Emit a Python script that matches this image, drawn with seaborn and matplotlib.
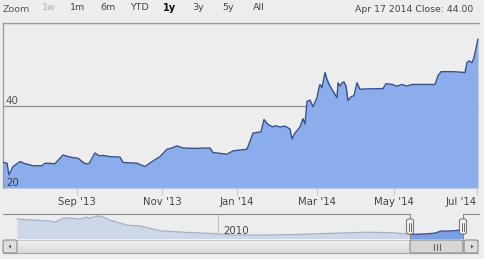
import matplotlib
matplotlib.use('Agg')
import matplotlib.pyplot as plt
import matplotlib.transforms as mtransforms
from matplotlib.patches import FancyBboxPatch, Polygon
import numpy as np
import pandas as pd
import seaborn as sns

# ---------------- data ----------------
session = [0, 4, 6, 10, 17, 22, 30, 39, 42, 52, 60, 67, 75, 82, 86, 92, 96, 100,
           107, 117, 120, 134, 142, 149, 157, 164, 169, 174, 180, 190, 207, 210,
           224, 230, 244, 250, 255, 258, 261, 265, 270, 272, 277, 282, 287, 289,
           292, 297, 300, 302, 304, 307, 310, 314, 316, 317, 319, 322, 324, 327,
           330, 334, 335, 337, 339, 341, 343, 345, 348, 351, 354, 357, 360, 380,
           383, 389, 394, 399, 404, 409, 432, 435, 438, 450, 462, 464, 466, 469,
           471, 475]
close = [26.2, 26.0, 23.2, 25.2, 26.4, 25.9, 25.4, 25.4, 26.0, 25.9, 28.0, 27.5,
         27.2, 25.9, 25.9, 28.5, 27.8, 27.9, 27.6, 27.5, 26.2, 26.0, 25.2, 26.4,
         27.6, 29.4, 29.7, 30.2, 29.7, 29.6, 29.7, 28.6, 28.2, 29.0, 29.4, 33.3,
         33.5, 33.6, 36.6, 35.4, 34.8, 35.1, 34.8, 35.0, 34.3, 31.9, 33.3, 34.8,
         36.8, 35.5, 41.0, 41.3, 39.7, 41.9, 44.3, 45.1, 44.3, 48.0, 46.3, 44.7,
         43.5, 41.9, 45.5, 44.7, 45.5, 45.7, 44.7, 41.2, 42.1, 42.4, 45.5, 43.9,
         44.0, 44.1, 45.3, 45.1, 44.7, 45.1, 44.7, 45.1, 45.1, 47.2, 48.2, 48.2,
         48.0, 50.4, 50.8, 50.4, 51.6, 56.1]
month_ticks = [74, 159, 234, 314, 391, 474]
month_labels = ["Sep '13", "Nov '13", "Jan '14", "Mar '14", "May '14", "Jul '14"]
y_ticks = [20, 40, 60]
y_labels = ["20", "40"]

nav_year = [2006.21, 2006.51, 2006.83, 2006.92, 2007.08, 2007.15, 2007.40, 2007.53,
            2007.58, 2007.72, 2007.83, 2007.96, 2008.28, 2008.53, 2008.77, 2008.91,
            2009.34, 2009.79, 2010.04, 2010.28, 2010.92, 2011.55, 2012.17, 2012.81,
            2013.30, 2013.62, 2013.75, 2013.95, 2014.10, 2014.20, 2014.40, 2014.50,
            2014.62]
nav_close = [112, 106, 101, 94, 116, 118, 112, 123, 116, 129, 123, 106, 78, 73, 56,
             46, 38, 32, 28, 22, 22, 26, 32, 38, 35, 26, 26, 29, 33, 44, 45, 48, 52]
nav_tick_years = [2010]
selection = [2013.62, 2014.62]

range_buttons = ['1w', '1m', '6m', 'YTD', '1y', '3y', '5y', 'All']
header_text = 'Apr 17 2014 Close: 44.00'

# ---------------- style ----------------
sns.set_theme(style='white')
plt.rcParams['font.family'] = ['DejaVu Sans']

W, H = 484, 259
BG = '#ededed'
fig = plt.figure(figsize=(W / 100, H / 100), dpi=100, facecolor=BG)


def frac(x0, y0, x1, y1):
    return [x0 / W, 1 - y1 / H, (x1 - x0) / W, (y1 - y0) / H]


# ---------------- main chart ----------------
ax = fig.add_axes(frac(3, 23, 479, 188))
ax.set_facecolor(BG)
df = pd.DataFrame({'session': session, 'close': close})
ax.fill_between(df['session'], df['close'], 20, color='#8cadeb', lw=0, zorder=2)
sns.lineplot(data=df, x='session', y='close', ax=ax, color='#34508c', lw=1.0,
             zorder=3)
ax.set_xlim(0, 476)
ax.set_ylim(y_ticks[0], y_ticks[-1])
ax.set_xlabel('')
ax.set_ylabel('')
ax.set_yticks(y_ticks)
ax.set_yticklabels([])
ax.tick_params(axis='y', length=0)
ax.set_axisbelow(True)
ax.grid(axis='y', color='#8c8c8c', lw=0.9)
ax.grid(axis='x', visible=False)
ax.set_xticks(month_ticks)
ax.set_xticklabels(month_labels)
ax.tick_params(axis='x', length=5, width=0.8, color='#c4ccd8', labelsize=7.3,
               labelcolor='#444444', pad=1.5, direction='out', bottom=True)
ax.get_xticklabels()[-1].set_horizontalalignment('right')
for s in ['right', 'bottom']:
    ax.spines[s].set_visible(False)
for s in ['left', 'top']:
    ax.spines[s].set_color('#9a9a9a')
    ax.spines[s].set_linewidth(0.9)

trans = mtransforms.blended_transform_factory(ax.transAxes, ax.transData)
for v, lab in zip(y_ticks[:2], y_labels):
    ax.text(0.006, v, lab, transform=trans, ha='left', va='bottom',
            fontsize=7.4, color='#3a3a3a' if v == 20 else '#555555', zorder=5)

# ---------------- navigator ----------------
px_per_year = (463 - 17) / (nav_year[-1] - nav_year[0])
nx0 = nav_year[0] - 14 / px_per_year
nx1 = nav_year[-1] + 16 / px_per_year
nav = fig.add_axes(frac(3, 214, 479, 239))
nav.set_facecolor('none')
nav.set_xlim(nx0, nx1)
nav.set_ylim(0, 140)
nav.axis('off')
ndf = pd.DataFrame({'year': nav_year, 'close': nav_close})
for yr in nav_tick_years:
    nav.axvline(yr, color='#c2c2c2', lw=0.8, zorder=1)
    nav.text(yr + 5 / px_per_year, 46, str(yr), ha='left', va='center',
             fontsize=7.4, color='#444444', zorder=6)
nav.fill_between(ndf['year'], ndf['close'], 0, color='#cdd7e8', lw=0, zorder=2)
sns.lineplot(data=ndf, x='year', y='close', ax=nav, color='#a4b0c8', lw=0.9,
             zorder=3)
sel = ndf[(ndf['year'] >= selection[0]) & (ndf['year'] <= selection[1])]
nav.fill_between(sel['year'], sel['close'], 0, color='#7a9fe2', lw=0, zorder=4)
sns.lineplot(data=sel, x='year', y='close', ax=nav, color='#34508c', lw=0.9,
             zorder=5)
nav.set_xlabel('')
nav.set_ylabel('')

# ---------------- decorations (pixel coords) ----------------
deco = fig.add_axes([0, 0, 1, 1], zorder=10)
deco.set_xlim(0, W)
deco.set_ylim(H, 0)
deco.axis('off')
deco.set_facecolor('none')

# header
deco.text(3, 9.5, 'Zoom', ha='left', va='center', fontsize=6.8, color='#555555')
btn_x = [49, 78, 108, 139, 170, 198, 228, 259]
for bx, lab in zip(btn_x, range_buttons):
    if lab == '1w':
        deco.text(bx, 8, lab, ha='center', va='center', fontsize=6.8, color='#b0b0b0')
    elif lab == '1y':
        deco.text(bx, 8, lab, ha='center', va='center', fontsize=7, color='#111111',
                  fontweight='bold')
    else:
        deco.text(bx, 8, lab, ha='center', va='center', fontsize=6.8, color='#444444')
deco.text(473, 9.5, header_text, ha='right', va='center', fontsize=6.7,
          color='#444444')

# navigator outline
lc = '#8a8a8a'
deco.plot([3, 410], [214, 214], color=lc, lw=0.8)
deco.plot([410, 410], [214, 239], color=lc, lw=0.8)
deco.plot([463, 463], [214, 239], color=lc, lw=0.8)
deco.plot([463, 479], [214, 214], color=lc, lw=0.8)

# scrollbar track
grad = np.linspace(0, 1, 20).reshape(-1, 1)
deco.imshow(grad, extent=(3, 478, 253, 239.5), cmap=matplotlib.colors.LinearSegmentedColormap.from_list('g', ['#f3f3f3', '#d9d9d9']),
            aspect='auto', zorder=1)
deco.plot([3, 478], [253, 253], color='#a8a8a8', lw=0.8)
deco.plot([3, 478], [239.5, 239.5], color='#c0c0c0', lw=0.6)
deco.set_xlim(0, W)
deco.set_ylim(H, 0)


def button(x0, x1, y0, y1, fc):
    deco.add_patch(FancyBboxPatch((x0, y0), x1 - x0, y1 - y0,
                                  boxstyle='round,pad=0,rounding_size=2',
                                  fc=fc, ec='#8c8c8c', lw=0.8, zorder=3))


button(3, 17, 240, 253, '#dedede')
button(464, 478, 240, 253, '#dedede')
deco.add_patch(Polygon([[8.5, 246.5], [11, 244.5], [11, 248.5]], closed=True,
                       fc='#555555', ec='none', zorder=4))
deco.add_patch(Polygon([[473.5, 246.5], [471, 244.5], [471, 248.5]], closed=True,
                       fc='#555555', ec='none', zorder=4))
button(410, 463, 240, 253, '#d6d6d6')
for lx in [433.5, 436.5, 439.5]:
    deco.plot([lx, lx], [244, 249.5], color='#666666', lw=0.8, zorder=5)

# navigator handles
for hx in [410, 463]:
    deco.add_patch(FancyBboxPatch((hx - 3.5, 219), 7, 15,
                                  boxstyle='round,pad=0,rounding_size=2',
                                  fc='#f4f4f4', ec='#777777', lw=0.8, zorder=6))
    for dx in [-1, 1]:
        deco.plot([hx + dx, hx + dx], [222.5, 230.5], color='#666666', lw=0.7,
                  zorder=7)

fig.savefig('out.png', dpi=100, facecolor=BG)
